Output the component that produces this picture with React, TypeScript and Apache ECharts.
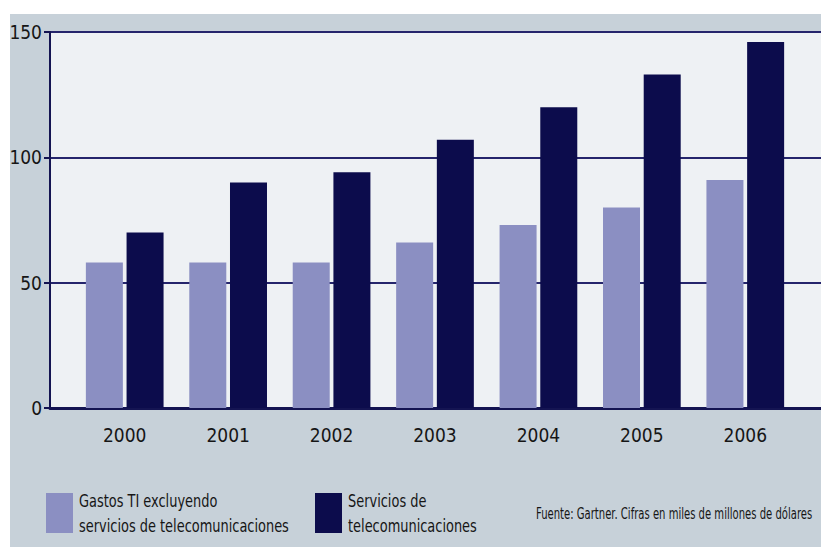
import React, { useEffect, useRef } from "react";
import * as echarts from "echarts";

const years = ["2000", "2001", "2002", "2003", "2004", "2005", "2006"];
const gastosTI = [58, 58, 58, 66, 73, 80, 91];
const serviciosTelecom = [70, 90, 94, 107, 120, 133, 146];
const yTicks = [0, 50, 100, 150];
const legendLines1 = ["Gastos TI excluyendo", "servicios de telecomunicaciones"];
const legendLines2 = ["Servicios de", "telecomunicaciones"];
const seriesNames = [legendLines1.join(" "), legendLines2.join(" ")];
const sourceText = "Fuente: Gartner. Cifras en miles de millones de dólares";

const FONT = "'DejaVu Sans Condensed', 'DejaVu Sans', sans-serif";
const NAVY = "#0c0c4c";
const LIGHT = "#8b8fc2";
const LINE = "#25256c";
const TEXT = "#161616";

function legendBlock(x: number, color: string, lines: string[]) {
  return [
    {
      type: "rect",
      silent: true,
      shape: { x, y: 493, width: 27, height: 40 },
      style: { fill: color },
    },
    ...lines.map((t, i) => ({
      type: "text",
      x: x + 33,
      y: 501 + i * 25,
      scaleX: 0.8,
      silent: true,
      style: {
        text: t,
        fontFamily: FONT,
        fontSize: 18,
        fill: TEXT,
        align: "left",
        verticalAlign: "middle",
      },
    })),
  ];
}

export default function App() {
  const ref = useRef<HTMLDivElement>(null);
  useEffect(() => {
    if (!ref.current) return;
    const chart = echarts.init(ref.current, undefined, { renderer: "svg" });
    chart.setOption({
      animation: false,
      backgroundColor: "#ffffff",
      textStyle: { fontFamily: FONT },
      graphic: [
        {
          type: "rect",
          z: -10,
          silent: true,
          shape: { x: 10, y: 14, width: 811, height: 533 },
          style: { fill: "#c7d1d9" },
        },
        {
          type: "rect",
          z: -9,
          silent: true,
          shape: { x: 50, y: 32, width: 771, height: 376 },
          style: { fill: "#eef1f4" },
        },
        ...legendBlock(46, LIGHT, legendLines1),
        ...legendBlock(315, NAVY, legendLines2),
        {
          type: "text",
          x: 536,
          y: 514,
          scaleX: 0.745,
          silent: true,
          style: {
            text: sourceText,
            fontFamily: FONT,
            fontSize: 15,
            fill: TEXT,
            align: "left",
            verticalAlign: "middle",
          },
        },
      ],
      grid: [
        { left: 50, right: 0, top: 32, bottom: 142, containLabel: false },
        { left: 73, right: 24, top: 32, bottom: 142, containLabel: false },
      ],
      xAxis: [
        {
          gridIndex: 0,
          type: "value",
          min: 0,
          max: 1,
          axisLine: { show: true, onZero: false, lineStyle: { color: "#141452", width: 3 } },
          axisTick: { show: false },
          axisLabel: { show: false },
          splitLine: { show: false },
        },
        {
          gridIndex: 1,
          type: "category",
          data: years,
          axisLine: { show: false },
          axisTick: { show: false },
          axisLabel: {
            fontFamily: FONT,
            fontSize: 19,
            color: TEXT,
            margin: 17,
          },
        },
      ],
      yAxis: [
        {
          gridIndex: 0,
          type: "value",
          min: yTicks[0],
          max: yTicks[yTicks.length - 1],
          interval: 50,
          axisLine: { show: true, lineStyle: { color: "#141452", width: 2 } },
          axisTick: { show: true, length: 6, lineStyle: { color: "#141452", width: 2 } },
          axisLabel: {
            fontFamily: FONT,
            fontSize: 19,
            color: TEXT,
            margin: 8,
          },
          splitLine: { show: true, lineStyle: { color: LINE, width: 2 } },
        },
        {
          gridIndex: 1,
          type: "value",
          min: 0,
          max: 150,
          show: false,
          splitLine: { show: false },
        },
      ],
      series: [
        {
          name: seriesNames[0],
          type: "bar",
          xAxisIndex: 1,
          yAxisIndex: 1,
          data: gastosTI,
          barWidth: 37,
          barGap: "10%",
          itemStyle: { color: LIGHT },
        },
        {
          name: seriesNames[1],
          type: "bar",
          xAxisIndex: 1,
          yAxisIndex: 1,
          data: serviciosTelecom,
          barWidth: 37,
          barGap: "10%",
          itemStyle: { color: NAVY },
        },
      ],
    });
    return () => chart.dispose();
  }, []);
  return <div ref={ref} style={{ width: 821, height: 550, position: "absolute", left: 0, top: 0 }} />;
}
